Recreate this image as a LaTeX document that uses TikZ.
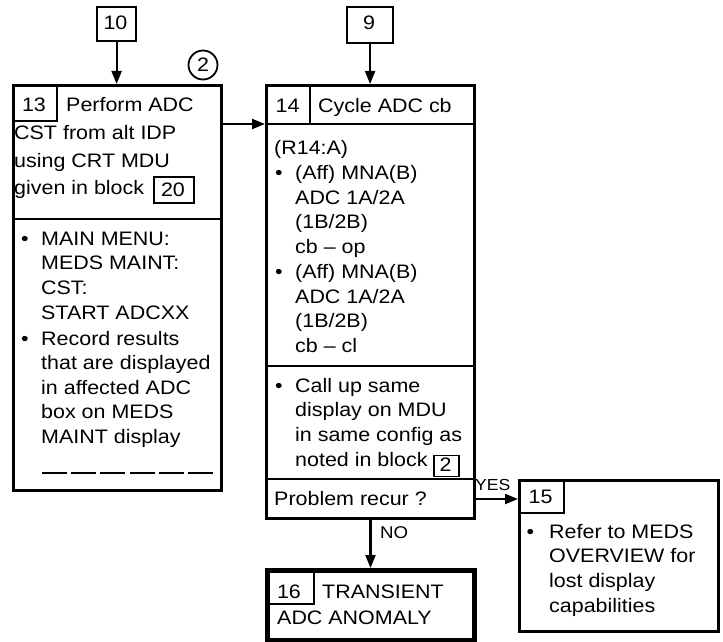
\documentclass[tikz,border=0pt]{standalone}
\usepackage{fontspec}
\setmainfont{Liberation Sans}[FakeStretch=1.1]
\usetikzlibrary{arrows.meta,shapes.geometric}
\tikzset{
  txt/.style={font=\fontsize{19.5}{24}\selectfont, inner sep=0pt, anchor=base west},
  ctxt/.style={font=\fontsize{19.5}{24}\selectfont, inner sep=0pt, anchor=base},
  small/.style={font=\fontsize{16}{18}\selectfont, inner sep=0pt, anchor=base west},
  bigbox/.style={draw, line width=3pt, inner sep=0pt, anchor=north west},
  subbox/.style={draw, line width=2.2pt, inner sep=0pt, anchor=north west},
  heavybox/.style={draw, line width=5pt, inner sep=0pt, anchor=north west},
  sep/.style={line width=2.8pt},
  arr/.style={-{Triangle[length=13pt,width=10pt]}, line width=2.1pt},
}
\begin{document}
\begin{tikzpicture}[x=1pt,y=-1pt]
\useasboundingbox (0,0) rectangle (723,642);

% ---------- top reference boxes
\node[subbox, minimum width=39pt, minimum height=34pt] (b10) at (96,6) {};
\node[ctxt] (t10) at (115.5,30) {10};
\node[subbox, minimum width=46pt, minimum height=36pt] (b9) at (346,6) {};
\node[ctxt] (t9) at (369,30) {9};

% ---------- block 13
\node[bigbox, minimum width=208pt, minimum height=405pt] (b13) at (12,84) {};
\node[subbox, minimum width=44pt, minimum height=36pt] (s13) at (12,84) {};
\node[ctxt] (n13) at (34,111) {13};
\node[txt] (h13) at (66,111) {Perform ADC};
\foreach \t [count=\i from 0] in {CST from alt IDP, using CRT MDU, given in block}
  \node[txt] (h13-\i) at (14,139.5+27.5*\i) {\t};
\node[subbox, minimum width=40pt, minimum height=26pt] (r20) at (153,176) {};
\node[ctxt] (t20) at (173,196) {20};
\coordinate (d13) at (12,219);
\draw[sep] (d13) -- (d13 -| b13.east);
\node[txt] (u13a) at (21,245) {•};
\foreach \t [count=\i from 0] in {MAIN MENU:, MEDS MAINT:, CST:, START ADCXX}
  \node[txt] (a13-\i) at (41,245+24.7*\i) {\t};
\node[txt] (u13b) at (21,345) {•};
\foreach \t [count=\i from 0] in {Record results, that are displayed, in affected ADC, box on MEDS, MAINT display}
  \node[txt] (c13-\i) at (41,345+24.5*\i) {\t};
\coordinate (dl1) at (42,473);
\coordinate (dl2) at (213,473);
\draw[line width=1.2pt, dash pattern=on 25pt off 4.2pt] (dl1) -- (dl2);

% circled 2
\node[draw, circle, line width=1.8pt, minimum size=29pt, inner sep=0pt] (c2) at (203,65) {};
\node[ctxt] (tc2) at (203,72) {2};

% ---------- block 14
\node[bigbox, minimum width=208pt, minimum height=433pt] (b14) at (265,84) {};
\coordinate (d14a) at (265,124);
\draw[sep] (d14a) -- (d14a -| b14.east);
\coordinate (v14) at (310,84);
\draw[line width=2.2pt] (v14) -- (v14 |- d14a);
\node[ctxt] (n14) at (287.5,112) {14};
\node[txt] (h14) at (318,112) {Cycle ADC cb};
\node[txt] (r14) at (274,154) {(R14:A)};
\node[txt] (u14a) at (275,179.5) {•};
\node[txt] (u14b) at (275,278.3) {•};
\foreach \t [count=\i from 0] in {(Aff) MNA(B), ADC 1A/2A, (1B/2B), cb – op, (Aff) MNA(B), ADC 1A/2A, (1B/2B), cb – cl}
  \node[txt] (a14-\i) at (295,179.5+24.7*\i) {\t};
\coordinate (d14b) at (265,366);
\draw[sep] (d14b) -- (d14b -| b14.east);
\node[txt] (u14c) at (275,392) {•};
\foreach \t [count=\i from 0] in {Call up same, display on MDU, in same config as, noted in block}
  \node[txt] (c14-\i) at (295,392+24.7*\i) {\t};
\node[subbox, minimum width=25pt, minimum height=21pt, line width=1.8pt] (r2) at (433,454.5) {};
\node[ctxt] (t2) at (445.5,471.5) {2};
\coordinate (d14c) at (265,479);
\draw[sep] (d14c) -- (d14c -| b14.east);
\node[txt] (pr) at (274,505) {Problem recur ?};
\coordinate (ya) at (473,499);

% ---------- block 15
\node[bigbox, minimum width=199pt, minimum height=151pt, line width=2.6pt] (b15) at (518,479) {};
\node[subbox, minimum width=45pt, minimum height=33pt] (s15) at (518,479) {};
\node[ctxt] (n15) at (540.5,503) {15};
\node[txt] (u15) at (526.5,538) {•};
\foreach \t [count=\i from 0] in {Refer to MEDS, OVERVIEW for, lost display, capabilities}
  \node[txt] (a15-\i) at (549,538+24.7*\i) {\t};

% ---------- block 16
\node[heavybox, minimum width=207pt, minimum height=70pt] (b16) at (265,568) {};
\node[subbox, minimum width=48pt, minimum height=35pt] (s16) at (265,568) {};
\node[ctxt] (n16) at (289,598) {16};
\node[txt] (h16a) at (322,598) {TRANSIENT};
\node[txt] (h16b) at (277,624) {ADC ANOMALY};

% ---------- connectors
\draw[arr] (b10.south) -- (b10.south |- b13.north);
\draw[arr] (b9.south) -- (b9.south |- b14.north);
\draw[arr] (b13.east |- d14a) -- (d14a);
\draw[arr] (ya) -- (ya -| b15.west);
\node[small] (yes) at (475,490) {YES};
\draw[arr] (b14.south) -- (b14.south |- b16.north);
\node[small, font=\fontsize{17}{19}\selectfont] (no) at (380,538) {NO};
\end{tikzpicture}
\end{document}
